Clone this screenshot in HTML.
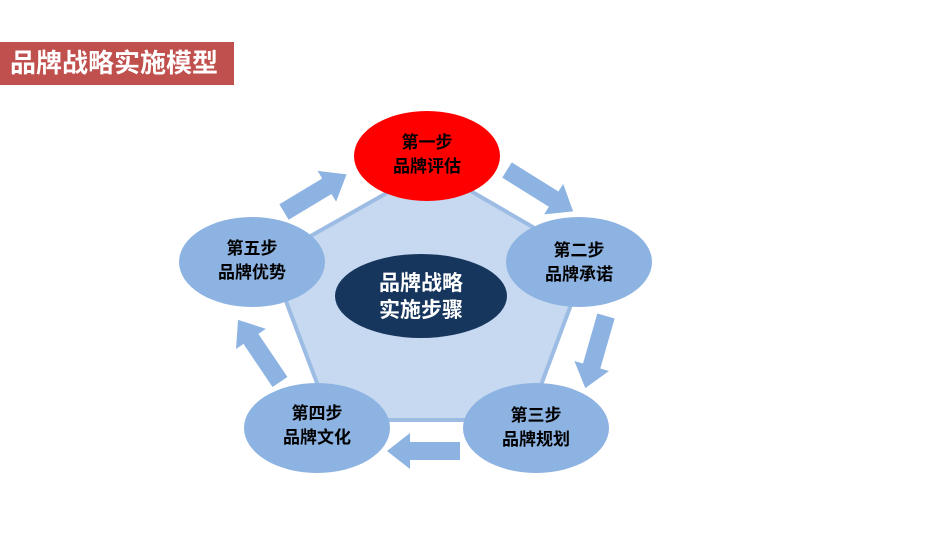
<!DOCTYPE html>
<html><head><meta charset="utf-8"><style>
body{margin:0;width:926px;height:539px;background:#fff;overflow:hidden;position:relative;font-family:"Liberation Sans","Noto Sans CJK SC",sans-serif}
.t{position:absolute;left:0;top:42px;width:234px;height:43px;background:#c0504d;color:#fff;font-weight:bold;font-size:26px;line-height:43px;text-indent:10px;letter-spacing:0}
</style></head><body>
<div class="t">品牌战略实施模型</div>
<svg width="926" height="539" style="position:absolute;left:0;top:0" font-family="Liberation Sans, Noto Sans CJK SC, sans-serif" font-weight="bold" text-anchor="middle">
<polygon points="431,168 588,259 528,420 331,420 270,259" fill="#c6d9f0" stroke="#9cbce4" stroke-width="4"/>
<g fill="#8db3e2">
<g transform="translate(284,212) rotate(-31)"><polygon points="0,-9 50,-9 50,-18 73,0 50,18 50,9 0,9"/></g>
<g transform="translate(507,170) rotate(32)"><polygon points="0,-9 55,-9 55,-18 78,0 55,18 55,9 0,9"/></g>
<g transform="translate(606,316) rotate(106)"><polygon points="0,-9 52,-9 52,-18 75,0 52,18 52,9 0,9"/></g>
<g transform="translate(460,451) rotate(180)"><polygon points="0,-9 50,-9 50,-18 73,0 50,18 50,9 0,9"/></g>
<g transform="translate(280,382) rotate(-124)"><polygon points="0,-9 52,-9 52,-18 75,0 52,18 52,9 0,9"/></g>
</g>
<ellipse cx="427" cy="156" rx="73" ry="45" fill="#ff0000"/>
<ellipse cx="579" cy="262" rx="73" ry="45" fill="#8db3e2"/>
<ellipse cx="536" cy="428" rx="73" ry="45" fill="#8db3e2"/>
<ellipse cx="317" cy="428" rx="73" ry="45" fill="#8db3e2"/>
<ellipse cx="252" cy="262" rx="73" ry="45" fill="#8db3e2"/>
<ellipse cx="421" cy="296" rx="86" ry="42" fill="#17365d"/>
<g font-size="17" fill="#000">
<text x="427" y="148">第一步</text><text x="427" y="172">品牌评估</text>
<text x="579" y="256">第二步</text><text x="579" y="280">品牌承诺</text>
<text x="536" y="421">第三步</text><text x="536" y="445">品牌规划</text>
<text x="317" y="419">第四步</text><text x="317" y="443">品牌文化</text>
<text x="252" y="254">第五步</text><text x="252" y="278">品牌优势</text>
</g>
<g font-size="21" fill="#fff">
<text x="421" y="290">品牌战略</text><text x="421" y="317">实施步骤</text>
</g>
</svg>
</body></html>
